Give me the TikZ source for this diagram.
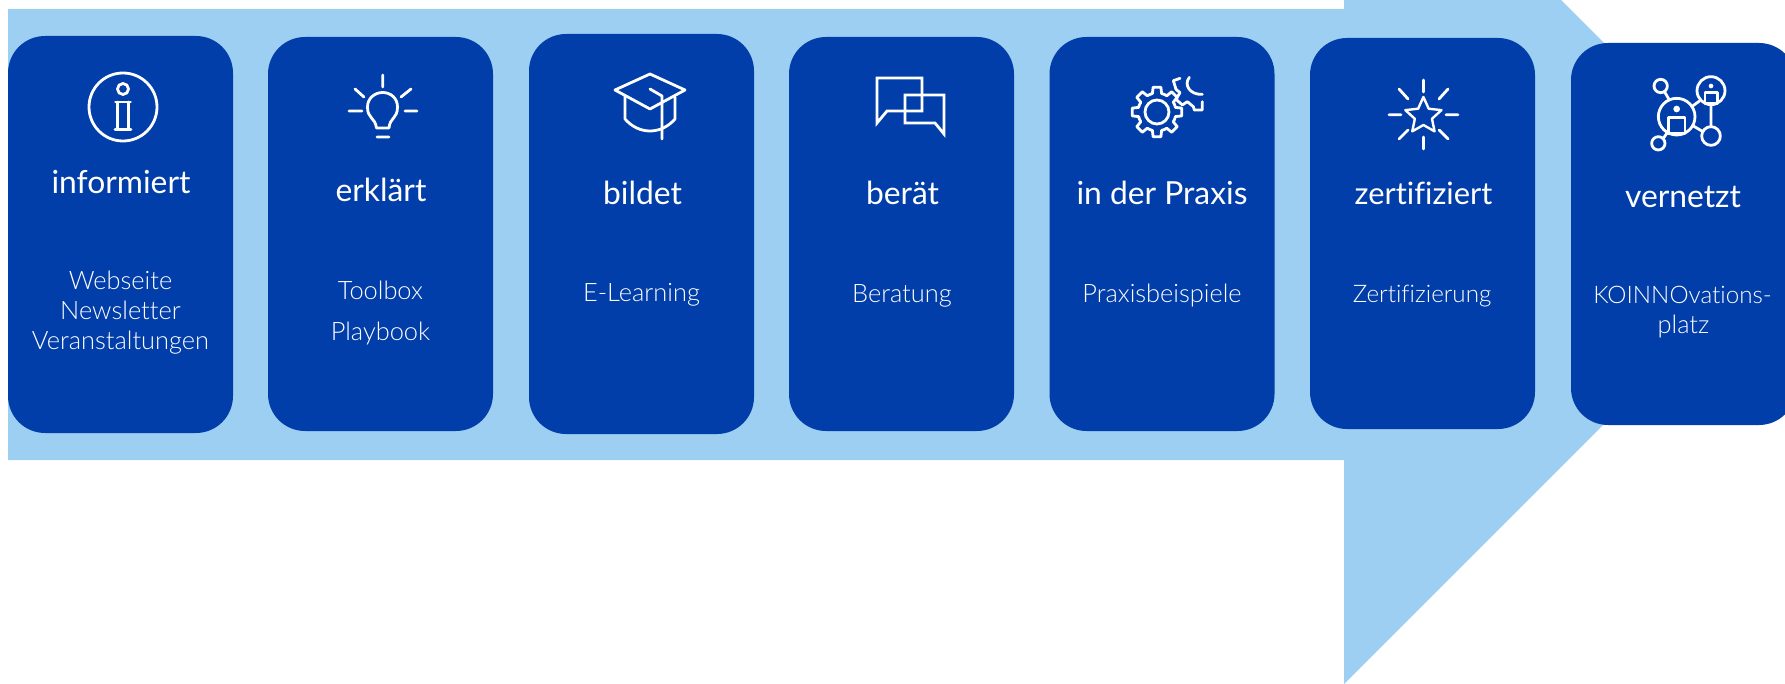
\documentclass[tikz,border=0pt]{standalone}
\usepackage{fontspec}
\setmainfont{Lato}[Ligatures=NoCommon]
\newfontfamily\lightfont{Lato Light}[Ligatures=NoCommon]
\definecolor{band}{HTML}{9DCFF3}
\definecolor{cardblue}{HTML}{013EA9}
\tikzset{
  card/.style={fill=cardblue,rounded corners=37pt,minimum width=225pt,inner sep=0pt,outer sep=0pt,draw=none},
  ttl/.style={anchor=base,text=white,inner sep=0pt,font=\fontsize{31.8}{36}\selectfont},
  ttlsmall/.style={ttl,font=\fontsize{30.8}{36}\selectfont},
  bodytxt/.style={anchor=base,text=white,inner sep=0pt,font=\lightfont\fontsize{25.4}{28}\selectfont},
  bodysmall/.style={bodytxt,font=\lightfont\fontsize{24.2}{28}\selectfont},
  icon/.style={draw=white,line width=2.8pt,line join=round,line cap=round,fill=none},
}
\begin{document}
\begin{tikzpicture}[x=1pt,y=-1pt]
\useasboundingbox (0,0) rectangle (1785,684);
\clip (0,0) rectangle (1785,684);
\fill[band] (8,9) -- (1344,9) -- (1344,0) -- (1561,0) -- (1785,224) -- (1785,243) -- (1344,684) -- (1344,460) -- (8,460) -- cycle;
% cards
\node[card,minimum height=397pt] (c1) at (120.5,234.5) {};
\node[card,minimum height=394pt] (c2) at (380.5,234) {};
\node[card,minimum height=400pt] (c3) at (641.5,234) {};
\node[card,minimum height=394pt] (c4) at (901.5,234) {};
\node[card,minimum height=394pt] (c5) at (1162,234) {};
\node[card,minimum height=391pt] (c6) at (1422.5,233.5) {};
\node[card,minimum height=382pt] (c7) at (1683.5,234) {};
% titles
\node[ttl] (t1) at (121,193.5) {informiert};
\node[ttl] (t2) at (381,202) {erklärt};
\node[ttl] (t3) at (642.5,205) {bildet};
\node[ttl] (t4) at (902.5,205) {berät};
\node[ttl] (t5) at (1162,205) {in der Praxis};
\node[ttlsmall] (t6) at (1423.5,205) {zertifiziert};
\node[ttl] (t7) at (1683,208) {vernetzt};
% body
\node[bodytxt] (b1a) at (120.5,290) {Webseite};
\node[bodytxt] (b1b) at (120.5,320) {Newsletter};
\node[bodytxt] (b1c) at (120.5,349.5) {Veranstaltungen};
\node[bodytxt] (b2a) at (380.5,300) {Toolbox};
\node[bodytxt] (b2b) at (380.5,340.5) {Playbook};
\node[bodytxt] (b3) at (641.5,301.5) {E-Learning};
\node[bodytxt] (b4) at (902,302.5) {Beratung};
\node[bodytxt] (b5) at (1162,302.5) {Praxisbeispiele};
\node[bodysmall] (b6) at (1422,302.5) {Zertifizierung};
\node[bodysmall] (b7a) at (1682.5,304) {KOINNOvations-};
\node[bodytxt] (b7b) at (1683.5,334) {platz};
% info icon
\draw[icon] (123,107) circle[radius=34pt];
\draw[icon] (123,89) circle[radius=5.5pt];
\draw[icon] (115.5,102) -- (130.5,102) (117.5,102) -- (117.5,129) (128.5,102) -- (128.5,129) (115,129.5) -- (131,129.5);
% bulb icon
\draw[icon] (382.7,75) -- (382.7,87) (355,89) -- (364,97) (411,89) -- (401,97) (349,111) -- (362,111) (405,111) -- (417,111) (377,137) -- (389,137);
\draw[icon] (376.5,128) -- (389,128) (376.5,128) .. controls (375,117) and (367.5,119) .. (367.5,107) .. controls (367.5,98) and (375,92.5) .. (382.7,92.5) .. controls (390.5,92.5) and (397.5,98) .. (397.5,107) .. controls (397.5,119) and (390,117) .. (389,128);
% cap icon
\draw[icon] (650,74) -- (685,90) -- (650,109) -- (615,90) -- cycle;
\draw[icon] (625,96) -- (625,119) .. controls (632,127) and (641,131) .. (650,131) .. controls (659,131) and (668,127) .. (675,119) -- (675,97);
\draw[icon] (650,89) -- (662,96) -- (662,139);
% chat icon
\draw[icon,line cap=butt,line join=miter] (877,78) -- (922,78) -- (922,111) -- (887,111) -- (877,123) -- cycle;
\draw[icon,line cap=butt,line join=miter] (905,95) -- (944,95) -- (944,134) -- (935,123) -- (905,123) -- cycle;
% gears
\begin{scope}[shift={(1157,112)}]
\draw[icon] (0,0) circle[radius=12pt];
\foreach \a in {0,45,...,315}{
  \draw[icon] (\a-14:19) -- (\a-9:25) -- (\a+9:25) -- (\a+14:19) -- (\a+22.5:19) -- (\a+31:19);
}
\end{scope}
\begin{scope}[shift={(1100,60)},scale=1/3]
\draw[icon] (240,55) -- (220,62) -- (228,88) -- (240,98) -- (228,118) -- (247,135) -- (262,125) -- (280,140) -- (283,150) -- (307,150) -- (307,125);
\draw[icon] (268,52) .. controls (250,75) and (270,105) .. (307,103);
\end{scope}
% star icon
\draw[icon] (1423.4,80) -- (1423.4,92) (1423.4,137) -- (1423.4,149) (1389,114.7) -- (1401,114.7) (1446,114.7) -- (1458,114.7) (1399,89) -- (1408,99) (1448,89) -- (1439,99) (1399,139) -- (1408,130) (1448,139) -- (1439,130);
\begin{scope}[shift={(1423.4,116)}]
\draw[icon,line width=2.4pt] (-90:19) -- (-54:9) -- (-18:19) -- (18:9) -- (54:19) -- (90:9) -- (126:19) -- (162:9) -- (198:19) -- (234:9) -- cycle;
\end{scope}
% network icon
\begin{scope}[shift={(1630,60)},scale=1/3]
\draw[icon] (92,78) circle[radius=20pt];
\draw[icon] (243,92) circle[radius=42pt];
\draw[icon] (140,170) circle[radius=55pt];
\draw[icon] (243,228) circle[radius=28pt];
\draw[icon] (85,250) circle[radius=20pt];
\draw[icon] (104,96) -- (118,120) (185,140) -- (207,124) (243,134) -- (243,200) (190,198) -- (219,215) (99,236) -- (112,218);
\draw[icon] (115,172) rectangle (165,220);
\draw[icon] (225,97) rectangle (262,130);
\fill[white] (140,147) circle[radius=10pt];
\fill[white] (243,78) circle[radius=7pt];
\end{scope}
\end{tikzpicture}
\end{document}
